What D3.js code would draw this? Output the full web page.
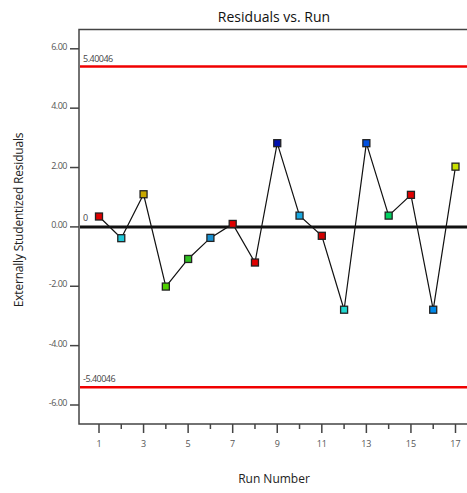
<!DOCTYPE html>
<html>
<head>
	<meta charset="utf-8" />
	<title>Residuals vs. Run</title>
	<script src="https://d3js.org/d3.v7.min.js"></script>
	<style>
		body { margin: 0; background: #fff; }
		text { font-family: "Open Sans", "Noto Sans", sans-serif; }
	</style>
</head>
<body>

<script>
var runs = [1, 2, 3, 4, 5, 6, 7, 8, 9, 10, 11, 12, 13, 14, 15, 16, 17];
var residuals = [0.35, -0.38, 1.10, -2.01, -1.08, -0.37, 0.10, -1.20, 2.82, 0.38, -0.30, -2.79, 2.82, 0.38, 1.08, -2.79, 2.03];
var pointColors = ["#e00000", "#20c8d8", "#c8a800", "#50d000", "#30c020", "#1890d0", "#e00000", "#e00000",
	"#0010b0", "#18a8e0", "#d00000", "#20d8d0", "#0050e0", "#00d060", "#e00000", "#0088e8", "#c8e000"];
var yTicks = [-6, -4, -2, 0, 2, 4, 6];
var xTicks = [1, 3, 5, 7, 9, 11, 13, 15, 17];
var xMinorTicks = [2, 4, 6, 8, 10, 12, 14, 16];
var limit = 5.40046;

var width = 467, height = 493;
var plotL = 79, plotR = 472, plotT = 29.5, plotB = 424;

var svg = d3.select("body").append("svg")
			.attr("width", width)
			.attr("height", height);

var x = d3.scaleLinear().domain([1, 17]).range([99, 455.5]);
var y = d3.scaleLinear().domain([-6, 6]).range([405, 48.8]);

// frame
svg.append("path")
	.attr("d", "M" + plotR + "," + plotT + "H" + plotL + "V" + plotB + "H" + plotR)
	.attr("fill", "none")
	.attr("stroke", "#444")
	.attr("stroke-width", 1.5);

// y axis ticks and labels
var yAxis = svg.append("g");
yAxis.selectAll("line")
	.data(yTicks)
	.enter()
	.append("line")
	.attr("x1", plotL - 9)
	.attr("x2", plotL)
	.attr("y1", function(d){ return y(d); })
	.attr("y2", function(d){ return y(d); })
	.attr("stroke", "#444")
	.attr("stroke-width", 1.5);
yAxis.selectAll("text")
	.data(yTicks)
	.enter()
	.append("text")
	.attr("x", plotL - 12)
	.attr("y", function(d){ return y(d) + 1; })
	.attr("text-anchor", "end")
	.attr("font-size", 9)
	.attr("letter-spacing", -0.5)
	.attr("fill", "#555")
	.text(function(d){ return d.toFixed(2); });

// x axis ticks
var xAxis = svg.append("g");
xAxis.selectAll("line.major")
	.data(xTicks)
	.enter()
	.append("line")
	.attr("class", "major")
	.attr("x1", function(d){ return x(d); })
	.attr("x2", function(d){ return x(d); })
	.attr("y1", plotB)
	.attr("y2", plotB + 9)
	.attr("stroke", "#444")
	.attr("stroke-width", 1.5);
xAxis.selectAll("line.minor")
	.data(xMinorTicks)
	.enter()
	.append("line")
	.attr("class", "minor")
	.attr("x1", function(d){ return x(d); })
	.attr("x2", function(d){ return x(d); })
	.attr("y1", plotB)
	.attr("y2", plotB + 5)
	.attr("stroke", "#444")
	.attr("stroke-width", 1.5);
xAxis.selectAll("text")
	.data(xTicks)
	.enter()
	.append("text")
	.attr("x", function(d){ return x(d); })
	.attr("y", plotB + 23)
	.attr("text-anchor", "middle")
	.attr("font-size", 9)
	.attr("fill", "#555")
	.text(function(d){ return d; });

// limit lines
[limit, -limit].forEach(function(v){
	svg.append("line")
		.attr("x1", plotL + 1)
		.attr("x2", plotR)
		.attr("y1", y(v))
		.attr("y2", y(v))
		.attr("stroke", "#f00000")
		.attr("stroke-width", 2.5);
	svg.append("text")
		.attr("x", plotL + 4)
		.attr("y", y(v) - 5)
		.attr("font-size", 9)
		.attr("letter-spacing", -0.5)
		.attr("fill", "#444")
		.text(v.toFixed(5));
});

// zero line
svg.append("line")
	.attr("x1", plotL + 1)
	.attr("x2", plotR)
	.attr("y1", y(0))
	.attr("y2", y(0))
	.attr("stroke", "#111")
	.attr("stroke-width", 3);
svg.append("text")
	.attr("x", plotL + 4)
	.attr("y", y(0) - 6)
	.attr("font-size", 9)
	.attr("fill", "#444")
	.text("0");

// residual line
var pts = runs.map(function(r, i){ return { run: r, v: residuals[i], c: pointColors[i] }; });
svg.append("path")
	.datum(pts)
	.attr("fill", "none")
	.attr("stroke", "#111")
	.attr("stroke-width", 1.2)
	.attr("d", d3.line()
		.x(function(d){ return x(d.run); })
		.y(function(d){ return y(d.v); }));

svg.selectAll("rect.pt")
	.data(pts)
	.enter()
	.append("rect")
	.attr("class", "pt")
	.attr("x", function(d){ return x(d.run) - 3.5; })
	.attr("y", function(d){ return y(d.v) - 3.5; })
	.attr("width", 7)
	.attr("height", 7)
	.attr("fill", function(d){ return d.c; })
	.attr("stroke", "#222")
	.attr("stroke-width", 1.3);

// titles
svg.append("text")
	.attr("x", 274)
	.attr("y", 22)
	.attr("text-anchor", "middle")
	.attr("font-size", 14)
	.attr("fill", "#111")
	.text("Residuals vs. Run");

svg.append("text")
	.attr("x", 274)
	.attr("y", 483)
	.attr("text-anchor", "middle")
	.attr("font-size", 12)
	.attr("fill", "#222")
	.text("Run Number");

svg.append("text")
	.attr("transform", "translate(23,220) rotate(-90)")
	.attr("text-anchor", "middle")
	.attr("font-size", 12)
	.attr("letter-spacing", -0.2)
	.attr("fill", "#222")
	.text("Externally Studentized Residuals");
</script>
</body>
</html>
